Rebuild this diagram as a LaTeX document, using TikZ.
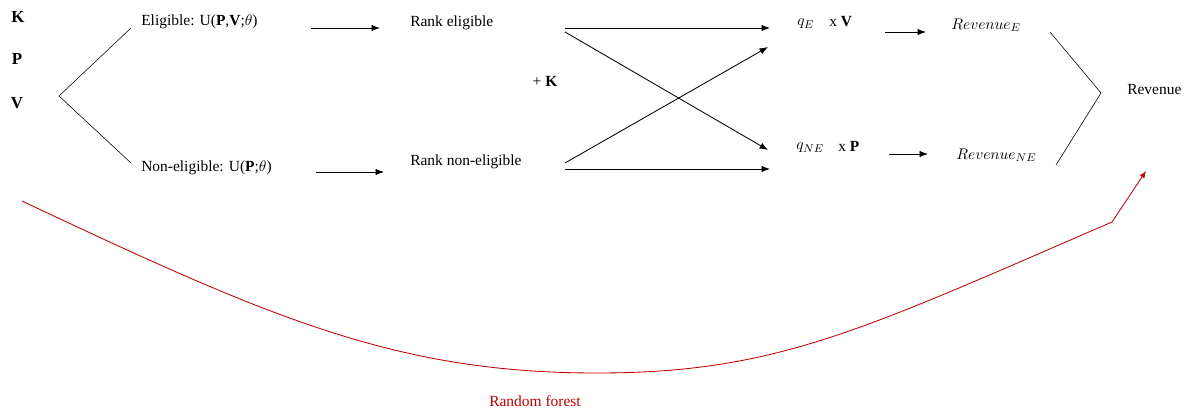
\documentclass[tikz,border=0pt]{standalone}
\usepackage{fontspec}
\setmainfont{Liberation Serif}
\usetikzlibrary{arrows.meta}
\definecolor{rfred}{RGB}{192,0,0}

\begin{document}
\begin{tikzpicture}[x=0.025cm,y=-0.025cm,
  every node/.style={inner sep=0pt,font=\fontsize{11}{13}\selectfont},
  arr/.style={-{Latex[length=6pt,width=4.5pt]},semithick}]
\useasboundingbox (0,0) rectangle (1189,413);

\coordinate (split) at (59,96);
\coordinate (eligend) at (131,28);
\coordinate (nonend) at (131,163);
\coordinate (U0) at (311,28);
\coordinate (U1) at (380,28);
\coordinate (W0) at (316,172);
\coordinate (W1) at (384,172);
\coordinate (RE0) at (565,28);
\coordinate (RE1) at (565,32);
\coordinate (RN0) at (565,163);
\coordinate (RN1) at (565,169);
\coordinate (QE0) at (770,28);
\coordinate (QE1) at (768,47);
\coordinate (QN0) at (768,150);
\coordinate (QN1) at (770,169);
\coordinate (V0) at (885,32);
\coordinate (V1) at (926,32);
\coordinate (P0) at (889,154);
\coordinate (P1) at (928,154);
\coordinate (J0) at (1050,32);
\coordinate (J) at (1101,93);
\coordinate (J1) at (1056,165);
\coordinate (F0) at (22,201);
\coordinate (Fm) at (597,373);
\coordinate (F1) at (1112,222);
\coordinate (F2) at (1146,171);

% inputs and the split
\node (K) at (18,17) {\fontsize{12}{14}\selectfont\textbf{K}};
\node (P) at (17,59) {\fontsize{12}{14}\selectfont\textbf{P}};
\node (V) at (17,103) {\fontsize{12}{14}\selectfont\textbf{V}};
\draw (eligend) -- (split) -- (nonend);

\node[anchor=west] (elig) at (141,22) {Eligible: U(\textbf{P},\textbf{V};$\theta$)};
\node[anchor=west] (nonelig) at (141,168) {Non-eligible: U(\textbf{P};$\theta$)};
\draw[arr] (U0) -- (U1);
\draw[arr] (W0) -- (W1);

\node[anchor=west] (rankE) at (410,23) {Rank eligible};
\node[anchor=west] (rankN) at (410,162) {Rank non-eligible};
\node (plusK) at (545,81) {+ \textbf{K}};

\draw[arr] (RE0) -- (QE0);
\draw[arr] (RE1) -- (QN0);
\draw[arr] (RN0) -- (QE1);
\draw[arr] (RN1) -- (QN1);

\node[anchor=west] (qE) at (797,24) {$q_E$};
\node[anchor=west] (xV) at (829,22) {x \textbf{V}};
\node[anchor=west] (qNE) at (796,148) {$q_{NE}$};
\node[anchor=west] (xP) at (838,146) {x \textbf{P}};
\draw[arr] (V0) -- (V1);
\draw[arr] (P0) -- (P1);

\node[anchor=west] (revE) at (951,25) {$Revenue_E$};
\node[anchor=west] (revNE) at (956,155) {$Revenue_{NE}$};
\draw (J0) -- (J) -- (J1);
\node[anchor=west] (rev) at (1127,90) {Revenue};

% random forest
\draw[rfred,semithick,-{Latex[length=5pt,width=4pt]}] (F0) .. controls (272,319) and (397,373) .. (Fm)
  .. controls (777,373) and (862,330) .. (F1) -- (F2);
\node[text=rfred] (rf) at (535,401) {Random forest};
\end{tikzpicture}
\end{document}
